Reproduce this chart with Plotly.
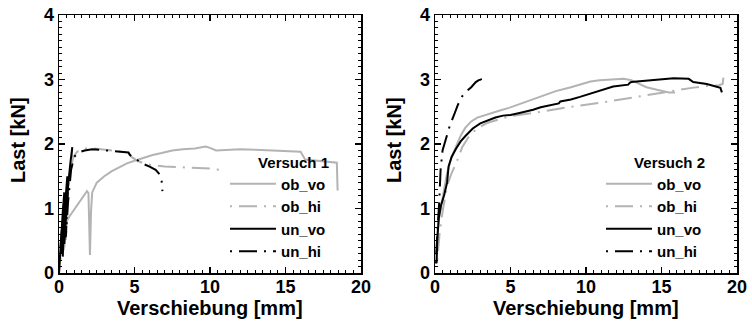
import plotly.graph_objects as go

# ---------------- data ----------------
# Versuch 1
v1_ob_vo_x = [0, 0.1, 0.2, 0.35, 0.5, 0.7, 1.0, 1.3, 1.6, 1.85, 1.95, 2.0, 2.05, 2.12, 2.2, 2.5, 3.0, 3.5, 4.0, 4.5, 5.0,
              5.6, 6.2, 6.8, 7.5, 8.2, 9.0, 9.7, 10.0, 10.4, 11.0, 12.0, 13.0, 14.0, 15.0, 16.0, 16.3, 17.0, 17.8, 18.4, 18.45]
v1_ob_vo_y = [0, 0.3, 0.45, 0.65, 0.8, 0.88, 0.98, 1.1, 1.2, 1.27, 1.24, 0.9, 0.28, 0.95, 1.25, 1.4, 1.5, 1.58, 1.64, 1.7,
              1.74, 1.79, 1.83, 1.86, 1.9, 1.92, 1.93, 1.96, 1.94, 1.9, 1.91, 1.92, 1.91, 1.9, 1.89, 1.88, 1.76, 1.74, 1.72,
              1.71, 1.28]

v1_ob_hi_x = [0.1, 0.25, 0.4, 0.35, 0.5, 0.45, 0.6, 0.75, 0.95, 1.2, 1.6, 2.0, 2.4, 3.0, 3.6, 4.2, 4.6, 4.8, 5.2, 5.6,
              6.2, 7.0, 8.0, 9.0, 10.0, 10.65]
v1_ob_hi_y = [0.2, 0.7, 1.1, 0.35, 1.2, 0.5, 1.3, 1.6, 1.8, 1.88, 1.92, 1.94, 1.93, 1.91, 1.9, 1.88, 1.86, 1.8, 1.74, 1.7,
              1.67, 1.65, 1.64, 1.63, 1.62, 1.6]

v1_un_vo_x = [0, 0.1, 0.25, 0.35, 0.2, 0.3, 0.45, 0.55, 0.35, 0.45, 0.6, 0.75, 0.88, 0.82]
v1_un_vo_y = [0, 0.45, 0.95, 1.25, 0.3, 0.7, 1.2, 1.5, 0.45, 0.9, 1.35, 1.7, 1.95, 1.8]

v1_un_hi_x = [0.05, 0.15, 0.3, 0.4, 0.25, 0.35, 0.5, 0.6, 0.45, 0.6, 0.8, 1.0, 1.3, 1.7, 2.2, 2.8, 3.4, 4.0, 4.6, 4.7,
              5.0, 5.5, 6.0, 6.4, 6.7, 6.8, 6.85]
v1_un_hi_y = [0.25, 0.6, 1.0, 1.25, 0.25, 0.6, 1.15, 1.4, 0.55, 1.1, 1.6, 1.8, 1.87, 1.9, 1.92, 1.91, 1.9, 1.89, 1.87,
              1.83, 1.78, 1.7, 1.65, 1.6, 1.52, 1.42, 1.27]

# Versuch 2
v2_ob_vo_x = [0.1, 0.15, 0.3, 0.5, 0.8, 1.1, 1.4, 1.7, 2.0, 2.4, 2.8, 3.3, 3.8, 4.3, 4.9, 5.5, 6.0, 7.0, 8.0, 9.0, 9.8,
              10.3, 10.9, 11.6, 12.5, 13.0, 13.5, 14.0, 14.7, 15.5, 15.9]
v2_ob_vo_y = [0.15, 0.6, 0.9, 1.15, 1.55, 1.8, 1.98, 2.13, 2.25, 2.35, 2.41, 2.45, 2.48, 2.52, 2.56, 2.61, 2.66, 2.74,
              2.82, 2.88, 2.94, 2.97, 2.99, 3.0, 3.01, 2.99, 2.93, 2.88, 2.84, 2.8, 2.8]

v2_ob_hi_x = [0.15, 0.3, 0.5, 0.8, 1.1, 1.4, 1.8, 2.2, 2.6, 3.0, 3.5, 4.0, 4.5, 5.0, 6.0, 7.0, 8.0, 9.0, 10.0, 11.0,
              12.0, 13.0, 14.0, 15.0, 16.0, 17.0, 18.0, 18.8, 19.05, 19.1]
v2_ob_hi_y = [0.2, 0.6, 0.95, 1.35, 1.55, 1.7, 1.95, 2.1, 2.2, 2.27, 2.33, 2.37, 2.4, 2.43, 2.46, 2.5, 2.54, 2.58, 2.61,
              2.64, 2.68, 2.72, 2.76, 2.8, 2.83, 2.87, 2.9, 2.91, 2.93, 3.03]

v2_un_vo_x = [0.1, 0.15, 0.25, 0.4, 0.6, 0.8, 0.9, 1.1, 1.4, 1.7, 2.0, 2.5, 3.0, 3.5, 4.0, 4.5, 5.0, 5.6, 6.5, 7.0, 8.0,
              8.2, 8.3, 9.0, 9.6, 10.3, 10.9, 11.8, 12.8, 12.9, 13.0, 14.0, 14.8, 15.8, 16.8, 17.1, 18.0, 18.9, 19.0]
v2_un_vo_y = [0.15, 0.5, 0.85, 1.05, 1.2, 1.4, 1.65, 1.8, 1.93, 2.04, 2.12, 2.24, 2.32, 2.37, 2.41, 2.44, 2.45, 2.48,
              2.53, 2.57, 2.62, 2.63, 2.66, 2.69, 2.73, 2.78, 2.83, 2.89, 2.92, 2.95, 2.96, 2.98, 3.0, 3.02, 3.01, 2.96,
              2.93, 2.87, 2.8]

v2_un_hi_x = [0.05, 0.1, 0.2, 0.28, 0.37, 0.5, 0.65, 0.8, 1.0, 1.26, 1.5, 1.8, 2.1, 2.4, 2.7, 2.9, 3.05, 3.1]
v2_un_hi_y = [0.15, 0.45, 0.8, 1.1, 1.6, 1.9, 2.03, 2.17, 2.3, 2.45, 2.6, 2.74, 2.82, 2.88, 2.96, 2.99, 3.0, 2.9]

series_names = ["ob_vo", "ob_hi", "un_vo", "un_hi"]
legend_titles = ["Versuch 1", "Versuch 2"]
x_ticks = [0, 5, 10, 15, 20]
y_ticks = [0, 1, 2, 3, 4]

# ---------------- styling ----------------
GRAY = "#b3b3b3"
BLACK = "#000000"
DASHDOT = "2px,7px,18px,7px"
styles = {
    "ob_vo": dict(color=GRAY, width=2, dash="solid"),
    "ob_hi": dict(color=GRAY, width=2, dash=DASHDOT),
    "un_vo": dict(color=BLACK, width=2, dash="solid"),
    "un_hi": dict(color=BLACK, width=2, dash=DASHDOT),
}
FONT = "Liberation Sans, Arial, Helvetica, sans-serif"

fig = go.Figure()
data1 = [(v1_ob_vo_x, v1_ob_vo_y), (v1_ob_hi_x, v1_ob_hi_y), (v1_un_vo_x, v1_un_vo_y), (v1_un_hi_x, v1_un_hi_y)]
data2 = [(v2_ob_vo_x, v2_ob_vo_y), (v2_ob_hi_x, v2_ob_hi_y), (v2_un_vo_x, v2_un_vo_y), (v2_un_hi_x, v2_un_hi_y)]

for name, (xs, ys) in zip(series_names, data1):
    fig.add_trace(go.Scatter(x=xs, y=ys, mode="lines", name=name, line=styles[name],
                             xaxis="x", yaxis="y", legend="legend"))
for name, (xs, ys) in zip(series_names, data2):
    fig.add_trace(go.Scatter(x=xs, y=ys, mode="lines", name=name, line=styles[name],
                             xaxis="x2", yaxis="y2", legend="legend2"))

W, H = 752, 331
L1, R1 = 59, 361
L2, R2 = 435, 737
T, B = 15, 273

def px_x(p):
    return p / W

def px_y(p):
    return (H - p) / H

tickfont = dict(family=FONT, size=18, color="black", weight="bold")
axis_common = dict(
    range=[0, 20], tickvals=x_ticks, ticks="inside", ticklen=6, tickwidth=1.2, tickcolor="black",
    showline=True, linecolor="black", linewidth=1.5, mirror="allticks", showgrid=False, zeroline=False,
    tickfont=tickfont, fixedrange=True, automargin=False, ticklabelstandoff=-3,
    minor=dict(dtick=0.5, ticks="inside", ticklen=3, tickwidth=1, tickcolor="black", showgrid=False),
)
yaxis_common = dict(
    range=[0, 4], tickvals=y_ticks, ticks="inside", ticklen=6, tickwidth=1.2, tickcolor="black",
    showline=True, linecolor="black", linewidth=1.5, mirror="allticks", showgrid=False, zeroline=False,
    tickfont=tickfont, fixedrange=True, automargin=False,
    minor=dict(dtick=0.1, ticks="inside", ticklen=3, tickwidth=1, tickcolor="black", showgrid=False),
)

legend_common = dict(
    bgcolor="rgba(0,0,0,0)", borderwidth=0, xanchor="right", yanchor="top",
    font=dict(family=FONT, size=15, color="black", weight="bold"), itemwidth=46,
    tracegroupgap=0,
)

fig.update_layout(
    template="none",
    width=W, height=H, margin=dict(l=0, r=0, t=0, b=0, autoexpand=False),
    paper_bgcolor="white", plot_bgcolor="white",
    xaxis=dict(domain=[px_x(L1), px_x(R1)], anchor="y", **axis_common),
    yaxis=dict(domain=[px_y(B), px_y(T)], anchor="x", **yaxis_common),
    xaxis2=dict(domain=[px_x(L2), px_x(R2)], anchor="y2", **axis_common),
    yaxis2=dict(domain=[px_y(B), px_y(T)], anchor="x2", **yaxis_common),
    legend=dict(x=px_x(331), y=px_y(148),
                title=dict(text=legend_titles[0], side="top right",
                           font=dict(family=FONT, size=15, color="black", weight="bold")),
                **legend_common),
    legend2=dict(x=px_x(707), y=px_y(148),
                 title=dict(text=legend_titles[1], side="top right",
                            font=dict(family=FONT, size=15, color="black", weight="bold")),
                 **legend_common),
    showlegend=True,
)

title_font = dict(family=FONT, size=20, color="black", weight="bold")
for cx in [(L1 + R1) / 2, (L2 + R2) / 2]:
    fig.add_annotation(text="Verschiebung [mm]", x=px_x(cx), y=px_y(308), xref="paper", yref="paper",
                       showarrow=False, font=title_font, xanchor="center", yanchor="middle")
for cx in [18, 394]:
    fig.add_annotation(text="Last [kN]", x=px_x(cx), y=px_y(140), xref="paper", yref="paper",
                       showarrow=False, font=title_font, textangle=-90, xanchor="center", yanchor="middle")

fig.write_html("out.html", config={"displayModeBar": False, "staticPlot": True},
               post_script="document.body.style.margin='0px';document.body.style.padding='0px';")
